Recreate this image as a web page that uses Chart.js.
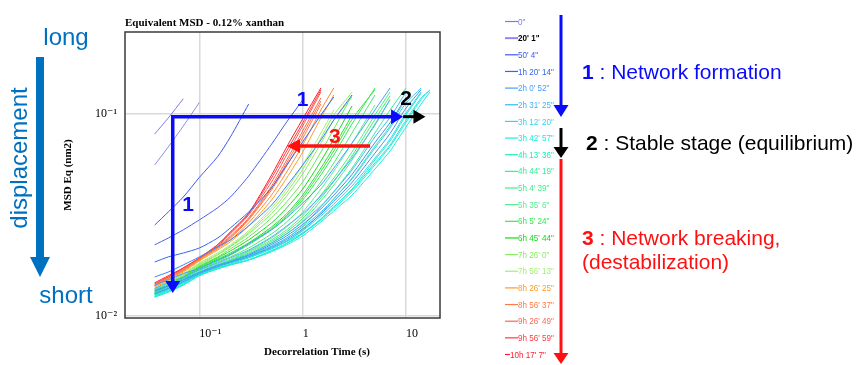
<!DOCTYPE html>
<html><head><meta charset="utf-8">
<script src="https://cdn.jsdelivr.net/npm/chart.js@4.4.0/dist/chart.umd.min.js"></script>
<style>html,body{margin:0;padding:0;background:#fff;}canvas{display:block;}</style>
</head><body>
<canvas id="c" width="856" height="365"></canvas>
<script>
// Decorrelation time samples (s)
const decorrTime = [0.037,0.05,0.07,0.1,0.15,0.2,0.3,0.5,0.7,1,1.5,2,3,5,7,10,14,17];
// MSD Eq curves (one per acquisition time)
const msd_0h00 = [0.0796,0.0955,0.119];
const msd_0h20 = [0.0559,0.0686,0.0872,0.114];
const msd_0h50 = [0.0282,0.0327,0.0388,0.0485,0.0614,0.0770,0.112];
const msd_1h05 = [0.0225,0.0243,0.0267,0.0299,0.0343,0.0388,0.0493,0.0709,0.0913,0.1173];
const msd_1h20 = [0.0185,0.0196,0.0205,0.0217,0.0243,0.0273,0.0327,0.0431,0.0559,0.0728,0.0989,0.1214];
const msd_1h40 = [0.0156,0.0165,0.0179,0.0196,0.0220,0.0238,0.0279,0.0354,0.0440,0.0559,0.0743,0.0934,0.1242];
const msd_2h00 = [0.0142,0.0151,0.0162,0.0172,0.0189,0.0202,0.0228,0.0267,0.0306,0.0362,0.0445,0.0540,0.0717,0.1047,0.1345];
const msd_2h15 = [0.0137,0.0146,0.0156,0.0169,0.0183,0.0194,0.0212,0.0246,0.0279,0.0321,0.0393,0.0466,0.0605,0.0882,0.118];
const msd_2h31 = [0.0135,0.0142,0.0153,0.0165,0.0179,0.0187,0.0202,0.0230,0.0255,0.0292,0.0351,0.0412,0.0528,0.0770,0.0962,0.1285];
const msd_2h40 = [0.0133,0.0141,0.0151,0.0164,0.0178,0.0186,0.0200,0.0226,0.0249,0.0284,0.0339,0.0396,0.0502,0.0722,0.0905,0.1210];
const msd_2h50 = [0.0131,0.0139,0.0149,0.0163,0.0177,0.0185,0.0198,0.0222,0.0243,0.0276,0.0327,0.0380,0.0477,0.0678,0.0852,0.1134,0.1345];
const msd_3h00 = [0.0129,0.0137,0.0148,0.0162,0.0176,0.0184,0.0197,0.0219,0.0239,0.0270,0.0320,0.0369,0.0458,0.0640,0.0800,0.1070,0.1320];
const msd_3h12 = [0.0128,0.0136,0.0148,0.0163,0.0175,0.0185,0.0196,0.0217,0.0235,0.0264,0.0313,0.0358,0.0440,0.0605,0.0752,0.1012,0.1285];
const msd_3h27 = [0.0125,0.0135,0.0146,0.0162,0.0175,0.0183,0.0194,0.0215,0.0233,0.0258,0.0302,0.0347,0.0421,0.0572,0.0702,0.0934,0.1200,0.1315];
const msd_3h42 = [0.0124,0.0131,0.0142,0.0158,0.0171,0.0179,0.0189,0.0208,0.0225,0.0249,0.0292,0.0331,0.0397,0.0534,0.0656,0.0862,0.1121,0.1285];
const msd_3h55 = [0.0124,0.0132,0.0143,0.0159,0.0172,0.0180,0.0190,0.0211,0.0229,0.0256,0.0298,0.0340,0.0412,0.0560,0.0690,0.0910,0.1180,0.1310];
const msd_4h13 = [0.0125,0.0133,0.0144,0.0160,0.0171,0.0179,0.0189,0.0210,0.0228,0.0255,0.0302,0.0347,0.0425,0.0592,0.0735,0.0989,0.1271];
const msd_4h30 = [0.0127,0.0135,0.0146,0.0160,0.0173,0.0181,0.0194,0.0215,0.0235,0.0267,0.0321,0.0380,0.0482,0.0694,0.0872,0.1200];
const msd_4h44 = [0.0127,0.0135,0.0146,0.0162,0.0175,0.0185,0.0198,0.0222,0.0243,0.0279,0.0347,0.0412,0.0540,0.0805,0.1047,0.1345];
const msd_5h04 = [0.0128,0.0136,0.0148,0.0163,0.0177,0.0187,0.0202,0.0230,0.0255,0.0295,0.0371,0.0445,0.0592,0.0892,0.1173];
const msd_5h12 = [0.0129,0.0137,0.0149,0.0164,0.0178,0.0188,0.0205,0.0234,0.0261,0.0304,0.0384,0.0463,0.0620,0.0940,0.1230];
const msd_5h20 = [0.0128,0.0137,0.0149,0.0165,0.0179,0.0189,0.0208,0.0238,0.0267,0.0313,0.0397,0.0482,0.0648,0.0989,0.1285];
const msd_5h35 = [0.0130,0.0137,0.0151,0.0167,0.0181,0.0191,0.0210,0.0243,0.0276,0.0327,0.0425,0.0522,0.0717,0.1108];
const msd_5h50 = [0.0130,0.0139,0.0153,0.0169,0.0185,0.0196,0.0217,0.0255,0.0292,0.0351,0.0461,0.0572,0.0805,0.1242];
const msd_6h05 = [0.0131,0.0141,0.0154,0.0171,0.0187,0.0200,0.0225,0.0267,0.0310,0.0375,0.0499,0.0627,0.0892,0.1345];
const msd_6h15 = [0.0131,0.0141,0.0154,0.0172,0.0189,0.0202,0.0228,0.0271,0.0315,0.0386,0.0520,0.0656,0.0940,0.1320];
const msd_6h25 = [0.0131,0.0141,0.0154,0.0173,0.0191,0.0205,0.0230,0.0276,0.0321,0.0397,0.0540,0.0686,0.0989];
const msd_6h45 = [0.0133,0.0142,0.0156,0.0175,0.0194,0.0210,0.0238,0.0289,0.0343,0.0425,0.0585,0.0752,0.1095];
const msd_7h05 = [0.0135,0.0144,0.0158,0.0177,0.0196,0.0215,0.0246,0.0306,0.0367,0.0461,0.0648,0.0843,0.1242];
const msd_7h26 = [0.0136,0.0146,0.0160,0.0179,0.0200,0.0220,0.0255,0.0321,0.0393,0.0505,0.0717,0.0934,0.1214];
const msd_7h40 = [0.0136,0.0147,0.0161,0.0181,0.0202,0.0222,0.0259,0.0332,0.0409,0.0532,0.0760,0.0990,0.1280];
const msd_7h56 = [0.0137,0.0148,0.0162,0.0183,0.0205,0.0225,0.0264,0.0343,0.0425,0.0559,0.0805,0.1047];
const msd_8h26 = [0.0139,0.0149,0.0165,0.0187,0.0212,0.0233,0.0279,0.0375,0.0482,0.0648,0.0955,0.1242];
const msd_8h40 = [0.0141,0.0151,0.0167,0.0189,0.0215,0.0238,0.0289,0.0397,0.0516,0.0702,0.1047,0.1345];
const msd_8h56 = [0.0141,0.0153,0.0169,0.0191,0.0217,0.0243,0.0299,0.0421,0.0553,0.0758,0.1121];
const msd_9h10 = [0.0142,0.0153,0.0169,0.0191,0.0218,0.0246,0.0302,0.0430,0.0572,0.0790,0.1160];
const msd_9h26 = [0.0142,0.0154,0.0169,0.0191,0.0220,0.0249,0.0306,0.0440,0.0592,0.0824,0.1200];
const msd_9h40 = [0.0144,0.0156,0.0171,0.0191,0.0222,0.0255,0.0316,0.0461,0.0627,0.0872,0.1285];
const msd_9h56 = [0.0144,0.0156,0.0173,0.0194,0.0225,0.0258,0.0321,0.0482,0.0656,0.0903,0.1315];
const msd_10h17 = [0.0146,0.0158,0.0173,0.0193,0.0225,0.0261,0.0323,0.0499,0.0686,0.0945,0.1345];

const curves = [msd_0h00,msd_0h20,msd_0h50,msd_1h05,msd_1h20,msd_1h40,msd_2h00,msd_2h15,msd_2h31,msd_2h40,msd_2h50,
  msd_3h00,msd_3h12,msd_3h27,msd_3h42,msd_3h55,msd_4h13,msd_4h30,msd_4h44,msd_5h04,msd_5h12,msd_5h20,msd_5h35,msd_5h50,
  msd_6h05,msd_6h15,msd_6h25,msd_6h45,msd_7h05,msd_7h26,msd_7h40,msd_7h56,msd_8h26,msd_8h40,msd_8h56,msd_9h10,
  msd_9h26,msd_9h40,msd_9h56,msd_10h17];
// legend label for each curve ('' = not listed in legend)
const curveLabels = ['0"','20\' 1"','50\' 4"','','1h 20\' 14"','','2h 0\' 52"','','2h 31\' 25"','','',
  '','3h 12\' 20"','','3h 42\' 57"','','4h 13\' 36"','','4h 44\' 19"','5h 4\' 39"','','','5h 35\' 6"','',
  '6h 5\' 24"','','','6h 45\' 44"','','7h 26\' 0"','','7h 56\' 13"','8h 26\' 25"','','8h 56\' 37"','',
  '9h 26\' 49"','','9h 56\' 59"','10h 17\' 7"'];
const curveColors = ['#7b7be6','#8c8ce8','#3f55f0','#4a5cee','#3366ee','#3a80f5','#4a9cff','#4aacf8','#3cb8f0','#3d8cf0','#3cc8ee',
  '#4590ee','#33d4ee','#22e4e6','#19eedd','#20eed0','#1eeebb','#26eeaa','#33ee99','#3dee88','#40ee70','#48ee80','#55ee90','#40ec70',
  '#33e855','#3ae444','#22e035','#11dd11','#66e855','#88ee66','#90ec60','#a4ee77','#ff9a22','#ff8a33','#ff7a44','#ff7040',
  '#ff6655','#ff5544','#ff3a44','#ff1a2a'];

const xTicks = [0.1, 1, 10];
const xTickText = ['10\u207B\u00B9', '1', '10'];
const yTicks = [0.01, 0.1];
const yTickText = ['10\u207B\u00B2', '10\u207B\u00B9'];

const SERIF = "'Liberation Serif','DejaVu Serif',serif";
const SANS = "'Liberation Sans',Arial,sans-serif";

function arrowHead(ctx, tx, ty, dx, dy, len, half, color) {
  const px = -dy, py = dx;
  ctx.fillStyle = color;
  ctx.beginPath();
  ctx.moveTo(tx, ty);
  ctx.lineTo(tx - dx*len + px*half, ty - dy*len + py*half);
  ctx.lineTo(tx - dx*len - px*half, ty - dy*len - py*half);
  ctx.closePath();
  ctx.fill();
}
function arrow(ctx, x1, y1, x2, y2, color, w, len, half) {
  const L = Math.hypot(x2-x1, y2-y1), dx = (x2-x1)/L, dy = (y2-y1)/L;
  ctx.strokeStyle = color; ctx.lineWidth = w; ctx.lineCap = 'butt';
  ctx.beginPath(); ctx.moveTo(x1, y1); ctx.lineTo(x2 - dx*len*0.8, y2 - dy*len*0.8); ctx.stroke();
  arrowHead(ctx, x2, y2, dx, dy, len, half, color);
}

const overlay = {
  id: 'overlay',
  afterDraw(chart) {
    const ctx = chart.ctx, xs = chart.scales.x, ys = chart.scales.y, a = chart.chartArea;
    const X = v => xs.getPixelForValue(v), Y = v => ys.getPixelForValue(v);
    ctx.save();
    // frame
    ctx.strokeStyle = '#3a3a3a'; ctx.lineWidth = 1.5;
    ctx.strokeRect(a.left, a.top, a.right - a.left, a.bottom - a.top);
    // titles
    ctx.fillStyle = '#000'; ctx.textBaseline = 'alphabetic';
    ctx.font = 'bold 11px ' + SERIF; ctx.textAlign = 'left';
    ctx.fillText('Equivalent MSD - 0.12% xanthan', a.left, 26);
    ctx.textAlign = 'center';
    ctx.fillText('Decorrelation Time (s)', 317, 355);
    ctx.save(); ctx.translate(71, (a.top + a.bottom)/2); ctx.rotate(-Math.PI/2);
    ctx.fillText('MSD Eq (nm2)', 0, 0); ctx.restore();

    // in-plot arrows
    const cx = X(0.0553), cy = Y(0.097), tipX = X(9.36), tipY = Y(0.0130);
    ctx.strokeStyle = '#0a0aff'; ctx.lineWidth = 3.5; ctx.lineJoin = 'miter';
    ctx.beginPath(); ctx.moveTo(tipX - 9, cy); ctx.lineTo(cx, cy); ctx.lineTo(cx, tipY - 9); ctx.stroke();
    arrowHead(ctx, tipX, cy, 1, 0, 12, 7.5, '#0a0aff');
    arrowHead(ctx, cx, tipY, 0, 1, 12, 7.5, '#0a0aff');
    arrow(ctx, tipX, cy, X(15.4), cy, '#000', 3, 12, 7);
    arrow(ctx, X(4.49), Y(0.0695), X(0.705), Y(0.0695), '#ff1010', 3.5, 13, 7);
    ctx.font = 'bold 21px ' + SANS; ctx.textAlign = 'center'; ctx.textBaseline = 'middle';
    ctx.fillStyle = '#0a0aff'; ctx.fillText('1', X(1.0), Y(0.117)); ctx.fillText('1', X(0.0778), Y(0.0354));
    ctx.fillStyle = '#000'; ctx.fillText('2', X(10), Y(0.1187));
    ctx.fillStyle = '#ff1010'; ctx.fillText('3', X(2.05), Y(0.077));

    // legend
    ctx.textAlign = 'left'; ctx.textBaseline = 'middle';
    let k = 0;
    curveLabels.forEach((lab, i) => {
      if (!lab) return;
      const y = 21 + 16.65*k; k++;
      const bold = (lab === '20\' 1"');
      ctx.strokeStyle = curveColors[i]; ctx.lineWidth = bold ? 2 : 1.2;
      const lineEnd = lab.startsWith('10h') ? 510 : 518;
      ctx.beginPath(); ctx.moveTo(505, y + 0.5); ctx.lineTo(lineEnd, y + 0.5); ctx.stroke();
      ctx.font = (bold ? 'bold ' : '') + '9.5px ' + SANS;
      ctx.fillStyle = bold ? '#000' : curveColors[i];
      ctx.save(); ctx.translate(lineEnd, y + 1); ctx.scale(0.85, 1);
      ctx.fillText(lab, 0, 0); ctx.restore();
    });

    // right-side stage arrows
    arrow(ctx, 561, 15, 561, 117, '#0a0aff', 3, 12, 7.5);
    arrow(ctx, 561, 128, 561, 158, '#000', 3, 11, 7.5);
    arrow(ctx, 561, 159, 561, 364, '#ff1010', 3, 11, 7.5);

    function rich(parts, x, y) {
      ctx.textAlign = 'left'; ctx.textBaseline = 'alphabetic';
      parts.forEach(p => { ctx.font = p[2] + ' 21px ' + SANS; ctx.fillStyle = p[1]; ctx.fillText(p[0], x, y); x += ctx.measureText(p[0]).width; });
    }
    rich([['1','#0a0aff','bold'],[' : Network formation','#0a0aff','normal']], 582, 79);
    rich([['2','#000','bold'],[' : Stable stage (equilibrium)','#000','normal']], 586, 150);
    rich([['3','#ff1010','bold'],[' : Network breaking,','#ff1010','normal']], 582, 245);
    rich([['(destabilization)','#ff1010','normal']], 582, 269);

    // left displacement annotation
    const blueL = '#0070c0';
    ctx.font = '24px ' + SANS; ctx.fillStyle = blueL; ctx.textAlign = 'center';
    ctx.fillText('long', 66, 45);
    ctx.fillText('short', 66, 303);
    arrow(ctx, 40, 57, 40, 277, blueL, 8, 20, 10);
    ctx.save(); ctx.translate(27, 158); ctx.rotate(-Math.PI/2);
    ctx.textBaseline = 'alphabetic'; ctx.fillText('displacement', 0, 0); ctx.restore();
    ctx.restore();
  }
};

new Chart(document.getElementById('c'), {
  type: 'line',
  data: {
    datasets: curves.map((vals, i) => ({
      label: curveLabels[i],
      data: vals.map((v, j) => ({x: decorrTime[j], y: v})),
      borderColor: curveColors[i], borderWidth: 1, pointRadius: 0, fill: false, tension: 0.25
    }))
  },
  options: {
    responsive: false, animation: false, events: [],
    layout: {padding: {left: 75, right: 416, top: 32, bottom: 0}},
    plugins: {legend: {display: false}, tooltip: {enabled: false}},
    scales: {
      x: {
        type: 'logarithmic', min: 0.0191, max: 21.3,
        afterBuildTicks: s => { s.ticks = xTicks.map(v => ({value: v})); },
        afterFit: s => { s.height = 47; },
        grid: {color: '#d9d9d9', lineWidth: 1.5, drawTicks: false},
        border: {display: false},
        ticks: {align: 'start', padding: 9, color: '#000', maxRotation: 0, autoSkip: false,
          font: {family: SERIF, size: 12},
          callback: v => { const i = xTicks.indexOf(v); return i < 0 ? '' : xTickText[i]; }}
      },
      y: {
        type: 'logarithmic', min: 0.00977, max: 0.2547,
        afterBuildTicks: s => { s.ticks = yTicks.map(v => ({value: v})); },
        afterFit: s => { s.width = 50; },
        grid: {color: '#d9d9d9', lineWidth: 1.5, drawTicks: false},
        border: {display: false},
        ticks: {padding: 8, color: '#000', autoSkip: false,
          font: {family: SERIF, size: 12},
          callback: v => { const i = yTicks.indexOf(v); return i < 0 ? '' : yTickText[i]; }}
      }
    }
  },
  plugins: [overlay]
});
</script>
</body></html>
